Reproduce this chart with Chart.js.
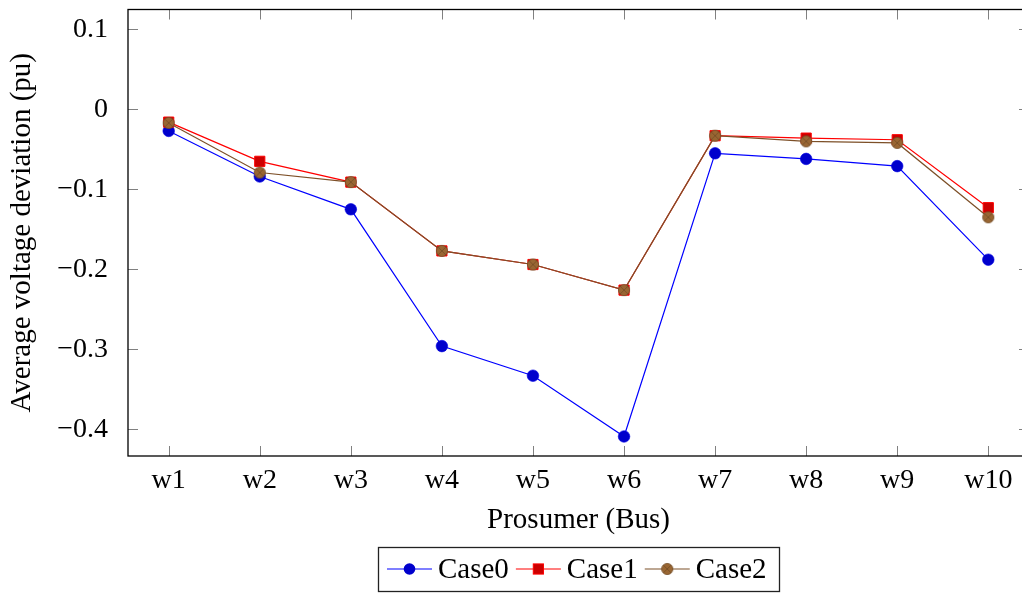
<!DOCTYPE html>
<html>
<head>
<meta charset="utf-8">
<script src="https://cdn.jsdelivr.net/npm/chart.js@4.4.0/dist/chart.umd.min.js"></script>
<style>
  html, body { margin: 0; padding: 0; background: #fff; overflow: hidden; }
  #wrap { width: 1032px; height: 593px; }
</style>
</head>
<body>
<div id="wrap"><canvas id="grafica" width="1032" height="593"></canvas></div>
<script>
const categorias = ["w1", "w2", "w3", "w4", "w5", "w6", "w7", "w8", "w9", "w10"];
const case0 = [-0.027, -0.084, -0.125, -0.296, -0.333, -0.409, -0.055, -0.062, -0.071, -0.188];
const case1 = [-0.016, -0.065, -0.091, -0.177, -0.194, -0.226, -0.033, -0.036, -0.038, -0.123];
const case2 = [-0.017, -0.079, -0.091, -0.177, -0.194, -0.226, -0.033, -0.040, -0.042, -0.135];
const ticksY = [0.1, 0, -0.1, -0.2, -0.3, -0.4];
const etiquetasY = ["0.1", "0", "\u22120.1", "\u22120.2", "\u22120.3", "\u22120.4"];

const fuente = '"Liberation Serif", "Times New Roman", serif';
const tamTicks = 28;
const tamTitulo = 29;

// marcador otimes (circulo con aspa) para Case2
function crearOtimes() {
  const c = document.createElement("canvas");
  c.width = 14;
  c.height = 14;
  const g = c.getContext("2d");
  g.beginPath();
  g.arc(7, 7, 5.6, 0, Math.PI * 2);
  g.fillStyle = "rgb(153,102,51)";
  g.fill();
  g.lineWidth = 0.8;
  g.strokeStyle = "rgb(115,77,38)";
  g.stroke();
  g.beginPath();
  g.moveTo(3, 3); g.lineTo(11, 11);
  g.moveTo(11, 3); g.lineTo(3, 11);
  g.stroke();
  return c;
}
const otimes = crearOtimes();

function puntos(valores) {
  return valores.map((v, i) => ({ x: i, y: v }));
}

// marco del eje y marcas hacia dentro
const marcoPlugin = {
  id: "marco",
  beforeDatasetsDraw(chart) {
    const ctx = chart.ctx;
    const a = chart.chartArea;
    const sx = chart.scales.x;
    const sy = chart.scales.y;
    ctx.save();
    ctx.strokeStyle = "#808080";
    ctx.lineWidth = 1;
    ctx.beginPath();
    categorias.forEach((c, i) => {
      const px = Math.round(sx.getPixelForValue(i)) + 0.5;
      ctx.moveTo(px, a.bottom); ctx.lineTo(px, a.bottom - 10);
      ctx.moveTo(px, a.top); ctx.lineTo(px, a.top + 10);
    });
    ticksY.forEach((v) => {
      const py = Math.round(sy.getPixelForValue(v)) + 0.5;
      ctx.moveTo(a.left, py); ctx.lineTo(a.left + 10, py);
      ctx.moveTo(a.right, py); ctx.lineTo(a.right - 10, py);
    });
    ctx.stroke();
    ctx.strokeStyle = "#000";
    ctx.lineWidth = 1.3;
    ctx.strokeRect(a.left, a.top, a.right - a.left, a.bottom - a.top);
    ctx.restore();
  },
};

// leyenda con linea + marcador, como en pgfplots
const leyendaPlugin = {
  id: "leyenda",
  afterDraw(chart) {
    const ctx = chart.ctx;
    ctx.save();
    ctx.strokeStyle = "#222";
    ctx.lineWidth = 1.3;
    ctx.strokeRect(378.5, 547.5, 401, 44);
    ctx.font = tamTitulo + "px " + fuente;
    ctx.textBaseline = "middle";
    ctx.fillStyle = "#000";
    let x = 387;
    const y = 569;
    chart.data.datasets.forEach((ds) => {
      ctx.strokeStyle = ds.borderColor;
      ctx.lineWidth = ds.borderWidth;
      ctx.beginPath();
      ctx.moveTo(x, y);
      ctx.lineTo(x + 45, y);
      ctx.stroke();
      const cx = x + 22.5;
      if (ds.pointStyle === "circle") {
        ctx.beginPath();
        ctx.arc(cx, y, ds.pointRadius, 0, Math.PI * 2);
        ctx.fillStyle = ds.pointBackgroundColor;
        ctx.fill();
      } else if (ds.pointStyle === "rect") {
        const s = ds.pointRadius * Math.SQRT1_2;
        ctx.fillStyle = ds.pointBackgroundColor;
        ctx.fillRect(cx - s, y - s, 2 * s, 2 * s);
        ctx.strokeStyle = ds.pointBorderColor;
        ctx.lineWidth = ds.pointBorderWidth;
        ctx.strokeRect(cx - s, y - s, 2 * s, 2 * s);
      } else {
        ctx.drawImage(ds.pointStyle, cx - 7, y - 7);
      }
      ctx.fillStyle = "#000";
      ctx.fillText(ds.label, x + 51, y + 1);
      x += 51 + ctx.measureText(ds.label).width + 7;
    });
    ctx.restore();
  },
};

function iniciarGrafica() {
  const ctx = document.getElementById("grafica").getContext("2d");
  new Chart(ctx, {
    type: "line",
    data: {
      datasets: [
        {
          label: "Case0",
          data: puntos(case0),
          borderColor: "rgb(0,0,255)",
          borderWidth: 1.2,
          pointStyle: "circle",
          pointRadius: 5.8,
          pointBackgroundColor: "rgb(0,0,204)",
          pointBorderColor: "rgb(0,0,230)",
          pointBorderWidth: 0.6,
          order: 2,
        },
        {
          label: "Case1",
          data: puntos(case1),
          borderColor: "rgb(255,0,0)",
          borderWidth: 1.2,
          pointStyle: "rect",
          pointRadius: 7.2,
          pointBackgroundColor: "rgb(204,0,0)",
          pointBorderColor: "rgb(255,0,0)",
          pointBorderWidth: 1,
          order: 1,
        },
        {
          label: "Case2",
          data: puntos(case2),
          borderColor: "rgb(125,80,40)",
          borderWidth: 1.2,
          pointStyle: otimes,
          pointRadius: 6,
          order: 0,
        },
      ],
    },
    options: {
      responsive: false,
      animation: false,
      devicePixelRatio: 1,
      layout: { autoPadding: false, padding: { top: 9.5, right: 3, left: 0, bottom: 0 } },
      scales: {
        x: {
          type: "linear",
          min: -0.447,
          max: 9.447,
          afterFit: (s) => {
            s.height = 137;
            s.paddingLeft = 0;
            s.paddingRight = 0;
          },
          afterBuildTicks: (s) => { s.ticks = categorias.map((c, i) => ({ value: i })); },
          grid: { display: false, drawTicks: false },
          border: { display: false },
          ticks: {
            padding: 8,
            color: "#000",
            font: { family: fuente, size: tamTicks },
            callback: (v) => categorias[v],
          },
          title: {
            display: true,
            text: "Prosumer (Bus)",
            color: "#000",
            font: { family: fuente, size: tamTitulo },
            padding: { bottom: 55 },
          },
        },
        y: {
          type: "linear",
          min: -0.4334,
          max: 0.1248,
          afterFit: (s) => {
            s.width = 128;
            s.paddingTop = 0;
            s.paddingBottom = 0;
          },
          afterBuildTicks: (s) => { s.ticks = ticksY.map((v) => ({ value: v })); },
          grid: { display: false, drawTicks: false },
          border: { display: false },
          ticks: {
            padding: 20,
            color: "#000",
            font: { family: fuente, size: tamTicks },
            callback: (v, i) => etiquetasY[i],
          },
          title: {
            display: true,
            text: "Average voltage deviation (pu)",
            color: "#000",
            font: { family: fuente, size: tamTitulo },
            padding: { top: 5 },
          },
        },
      },
      plugins: {
        legend: { display: false },
        tooltip: { enabled: false },
      },
    },
    plugins: [marcoPlugin, leyendaPlugin],
  });
}

document.addEventListener("DOMContentLoaded", function () {
  iniciarGrafica();
});
</script>
</body>
</html>
